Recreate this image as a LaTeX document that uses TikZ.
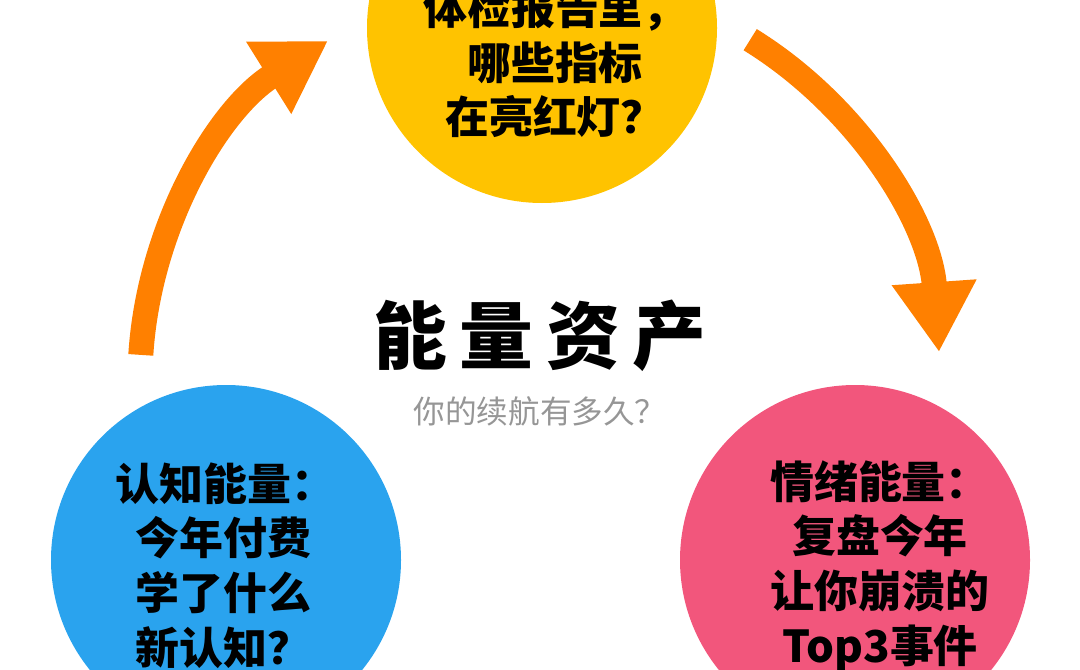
\documentclass[tikz,border=0pt]{standalone}
\usepackage{fontspec}
\setmainfont{Noto Sans CJK SC}
\usetikzlibrary{arrows.meta, positioning}
\definecolor{ringyellow}{RGB}{255,195,0}
\definecolor{ringblue}{RGB}{42,163,238}
\definecolor{ringpink}{RGB}{242,86,124}
\definecolor{arroworange}{RGB}{255,128,0}
\definecolor{subgray}{RGB}{150,150,150}

\begin{document}
\begin{tikzpicture}[
                bubble/.style={circle, minimum size=3.5cm, inner sep=0pt},
                bubbletext/.style={font=\fontsize{12.5}{15.6}\selectfont\bfseries, align=center},
                cycle/.style={arroworange, line width=0.25cm, -{Triangle[length=0.7cm, width=0.8cm]}}
            ]
                \useasboundingbox (0,0) rectangle (10.8,6.69);
                \clip (0,0) rectangle (10.8,6.69);
                \node[bubble, fill=ringyellow] (health) at (5.42,6.41) {};
                \node[bubble, fill=ringblue] (mind) at (2.26,1.09) {};
                \node[bubble, fill=ringpink] (mood) at (8.55,1.09) {};
                % texts in the bubbles
                \node[bubbletext] (healthtxt) at (5.55,6.07) {体检报告里，\\哪些指标\\在亮红灯？};
                \node[bubbletext, align=left, anchor=north west] (mindtxt) at (1.03,2.19) {认知能量：\\\hspace*{0.2cm}今年付费\\\hspace*{0.2cm}学了什么\\\hspace*{0.2cm}新认知？};
                \node[bubbletext] (moodtxt) at (8.8,1.03) {情绪能量：\\复盘今年\\让你崩溃的\\Top3事件};
                % centre
                \node[font=\fontsize{21}{24}\selectfont\bfseries] (title) at (5.4,3.33) {能\,量\,资\,产};
                \node[font=\fontsize{9}{10}\selectfont, text=subgray, below=0cm of title] (subtitle) {你的续航有多久？};
                % arrows
                \coordinate (c) at (5.4,2.89);
                \draw[cycle] ([shift={(176.4:4)}]c) arc[start angle=176.4, end angle=122, radius=4];
                \draw[cycle] ([shift={(58.3:4)}]c) arc[start angle=58.3, end angle=4, radius=4];
            \end{tikzpicture}
\end{document}
